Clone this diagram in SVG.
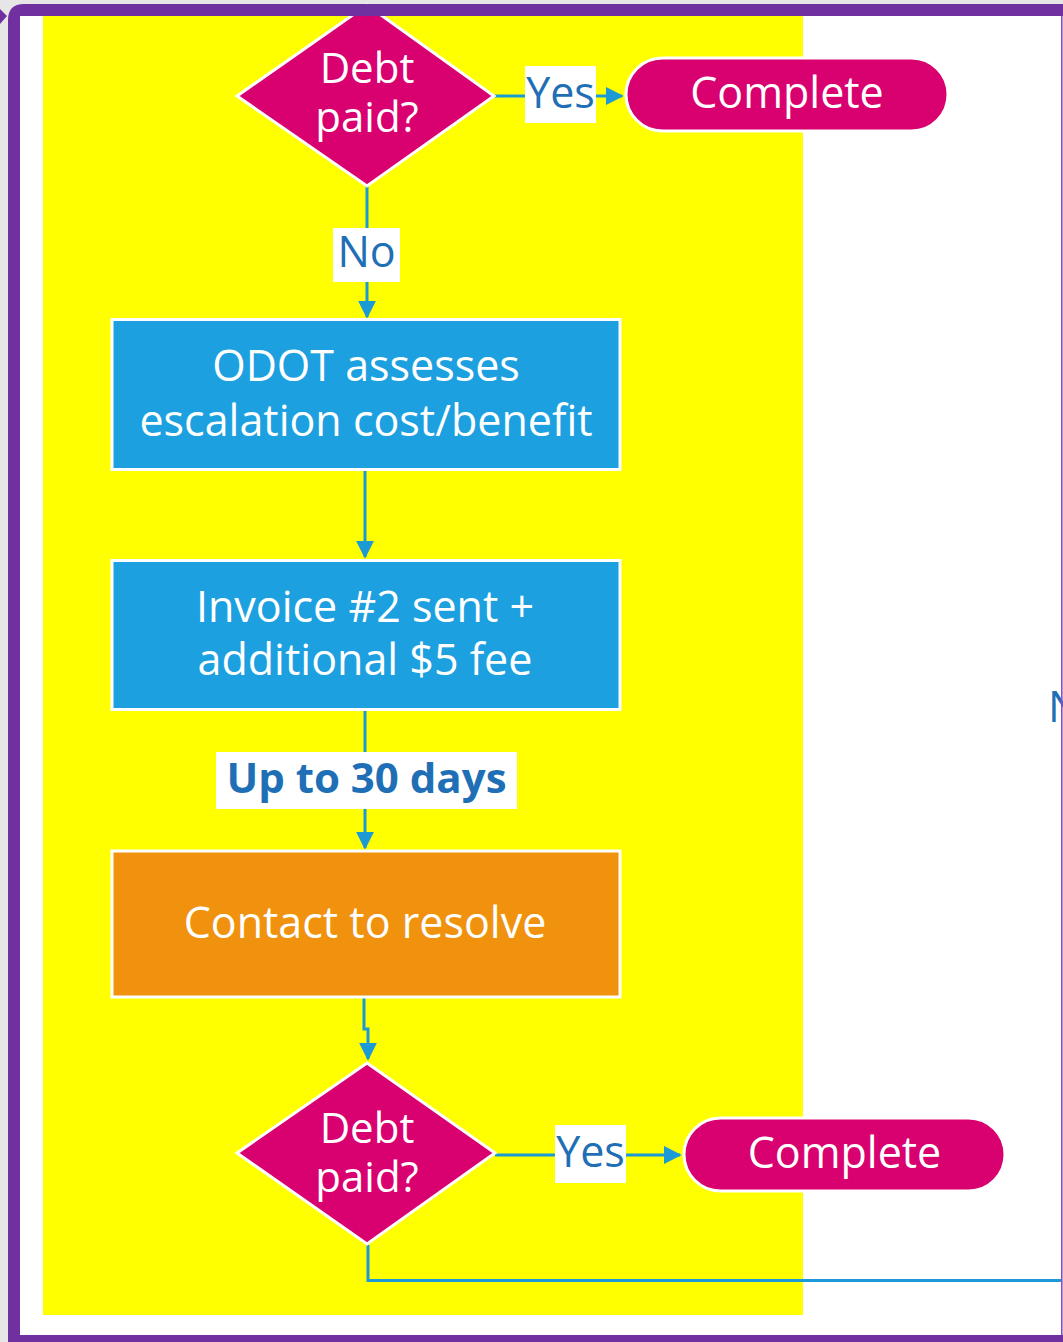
<svg xmlns="http://www.w3.org/2000/svg" width="1063" height="1342" viewBox="0 0 1063 1342">
  <defs>
    <style>
      .node-text { font-family: "Open Sans", "Noto Sans", "DejaVu Sans", sans-serif; font-size: 43px; fill: #ffffff; text-anchor: middle; }
      .dec-text { font-size: 42px; }
      .lbl-text { font-family: "Open Sans", "Noto Sans", "DejaVu Sans", sans-serif; font-size: 43px; fill: #1e6fb5; text-anchor: middle; }
      .lbl-bold { font-weight: 700; font-size: 42px; }
      .lbl-bg { fill: #ffffff; }
      .proc { fill: #1da0e0; stroke: #ffffff; stroke-width: 3; }
      .act { fill: #f0920e; stroke: #ffffff; stroke-width: 3; }
      .dec { fill: #d9006f; stroke: #ffffff; stroke-width: 3; }
      .term { fill: #d9006f; stroke: #ffffff; stroke-width: 3; }
      .conn { fill: none; stroke: #1b9ad6; stroke-width: 3; }
      .frame { fill: #7030a0; }
    </style>
    <marker id="arrowHead" viewBox="0 0 10 10" refX="9" refY="5" markerWidth="6" markerHeight="6" orient="auto">
      <path d="M0,0 L10,5 L0,10 z" fill="#1b9ad6"/>
    </marker>
  </defs>

  <!-- page background -->
  <rect x="0" y="0" width="1063" height="1342" fill="#e6e6e6"/>
  <rect x="20" y="16" width="1042" height="1319" fill="#ffffff"/>
  <!-- swimlane band -->
  <rect x="43" y="16" width="760" height="1299" fill="#ffff00"/>

  <!-- connectors -->
  <g id="connectors">
    <path class="conn" d="M494,96 H622" marker-end="url(#arrowHead)"/>
    <path class="conn" d="M367,186 V317" marker-end="url(#arrowHead)"/>
    <path class="conn" d="M365,470 V557" marker-end="url(#arrowHead)"/>
    <path class="conn" d="M365,711 V848" marker-end="url(#arrowHead)"/>
    <path class="conn" d="M364,998 V1029 H368 V1059" marker-end="url(#arrowHead)"/>
    <path class="conn" d="M495,1155 H680" marker-end="url(#arrowHead)"/>
    <path class="conn" d="M368,1245 V1280.5 H1062"/>
  </g>

  <!-- connector labels -->
  <g id="label-yes-1">
    <rect class="lbl-bg" x="525" y="66" width="71" height="57"/>
    <text class="lbl-text" x="560.5" y="108">Yes</text>
  </g>
  <g id="label-no-1">
    <rect class="lbl-bg" x="333" y="228" width="67" height="54"/>
    <text class="lbl-text" x="366.5" y="267">No</text>
  </g>
  <g id="label-wait">
    <rect class="lbl-bg" x="216" y="752" width="301" height="57"/>
    <text class="lbl-text lbl-bold" x="366.5" y="793">Up to 30 days</text>
  </g>
  <g id="label-yes-2">
    <rect class="lbl-bg" x="555" y="1125" width="71" height="58"/>
    <text class="lbl-text" x="590.5" y="1167">Yes</text>
  </g>
  <g id="label-no-2">
    <text class="lbl-text" x="1048" y="722" style="text-anchor:start">No</text>
  </g>

  <!-- nodes -->
  <g id="decision-1">
    <polygon class="dec" points="367,5 494,96 367,186 237,96"/>
    <text class="node-text dec-text" x="367" y="83">Debt</text>
    <text class="node-text dec-text" x="367" y="132">paid?</text>
  </g>
  <g id="complete-1">
    <rect class="term" x="626" y="58" width="322" height="73" rx="36.5"/>
    <text class="node-text" x="787" y="108">Complete</text>
  </g>
  <g id="assess">
    <rect class="proc" x="112" y="319.5" width="508" height="150"/>
    <text class="node-text" x="366" y="381">ODOT assesses</text>
    <text class="node-text" x="366" y="436">escalation cost/benefit</text>
  </g>
  <g id="invoice-2">
    <rect class="proc" x="112" y="560.5" width="508" height="149"/>
    <text class="node-text" x="365" y="622">Invoice #2 sent +</text>
    <text class="node-text" x="365" y="675">additional $5 fee</text>
  </g>
  <g id="contact">
    <rect class="act" x="112" y="851" width="508" height="146"/>
    <text class="node-text" x="365" y="938">Contact to resolve</text>
  </g>
  <g id="decision-2">
    <polygon class="dec" points="367,1063 495,1153 367,1244 237,1153"/>
    <text class="node-text dec-text" x="367" y="1143">Debt</text>
    <text class="node-text dec-text" x="367" y="1192">paid?</text>
  </g>
  <g id="complete-2">
    <rect class="term" x="684" y="1118" width="321" height="73" rx="36.5"/>
    <text class="node-text" x="844.5" y="1168">Complete</text>
  </g>

  <!-- page frame -->
  <g id="frame">
    <path class="frame" d="M8,20 Q8,4 24,4 H1063 V16 H20 V1335 H1063 V1342 H8 Z"/>
    <rect x="1061" y="16" width="1.5" height="1319" fill="#8a4cc6"/>
    <polygon class="frame" points="0,9 7,16 0,24"/>
  </g>
</svg>
